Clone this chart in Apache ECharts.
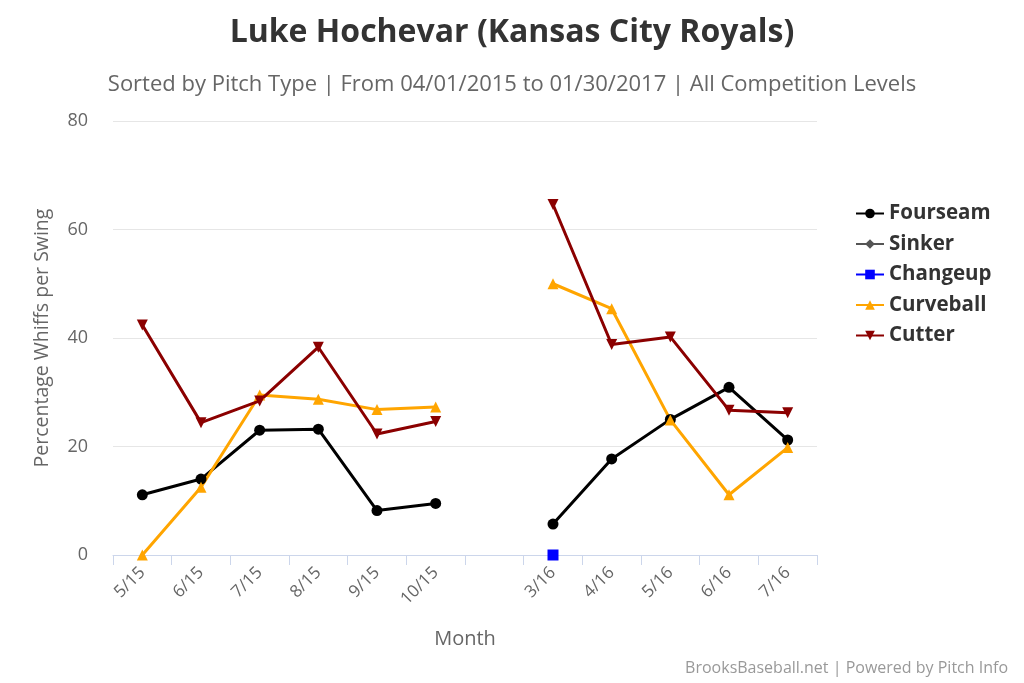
<!DOCTYPE html>
<html>
<head>
<meta charset="utf-8">
<script src="https://cdn.jsdelivr.net/npm/echarts@6/dist/echarts.min.js"></script>
<style>
  html, body { margin: 0; padding: 0; background: #fff; }
  #main { width: 1024px; height: 683px; }
</style>
</head>
<body>
<div id="main"></div>
<script>
// months, with one empty slot between the seasons
var months = ['5/15', '6/15', '7/15', '8/15', '9/15', '10/15', '', '3/16', '4/16', '5/16', '6/16', '7/16'];

var fourseam  = [11.1, 14.0, 23.0, 23.2, 8.2, 9.5, null, 5.7, 17.7, 25.0, 30.9, 21.2];
var sinker    = [null, null, null, null, null, null, null, null, null, null, null, null];
var changeup  = [null, null, null, null, null, null, null, 0, null, null, null, null];
var curveball = [0, 12.5, 29.5, 28.7, 26.8, 27.3, null, 50.0, 45.4, 24.9, 11.1, 19.8];
var cutter    = [42.4, 24.4, 28.4, 38.3, 22.3, 24.6, null, 64.6, 38.8, 40.2, 26.7, 26.2];

var font = '"Open Sans", "Noto Sans", sans-serif';

var myChart = echarts.init(document.getElementById('main'));

function mkSeries(name, data, color, symbol, size, rot) {
	return {
		name: name,
		type: 'line',
		data: data,
		connectNulls: false,
		symbol: symbol,
		symbolSize: size,
		symbolRotate: rot || 0,
		showAllSymbol: true,
		lineStyle: {color: color, width: 3},
		itemStyle: {color: color},
		emphasis: {disabled: true}
	};
}

var option = {
	animation: false,
	textStyle: {fontFamily: font},
	title: [
		{
			text: 'Luke Hochevar (Kansas City Royals)',
			left: 'center',
			top: 12,
			textStyle: {fontFamily: font, fontSize: 32, fontWeight: 'bold', color: '#333'}
		},
		{
			text: 'Sorted by Pitch Type | From 04/01/2015 to 01/30/2017 | All Competition Levels',
			left: 'center',
			top: 69,
			textStyle: {fontFamily: font, fontSize: 22, fontWeight: 'normal', color: '#666'}
		}
	],
	legend: {
		orient: 'vertical',
		left: 850,
		top: 198,
		itemWidth: 28,
		itemHeight: 12,
		itemGap: 9.5,
		textStyle: {fontFamily: font, fontSize: 20.5, fontWeight: 'bold', color: '#333'},
		data: ['Fourseam', 'Sinker', 'Changeup', 'Curveball', 'Cutter']
	},
	grid: {left: 113, right: 207, top: 121, bottom: 128},
	xAxis: {
		type: 'category',
		data: months,
		boundaryGap: true,
		name: 'Month',
		nameLocation: 'middle',
		nameGap: 74,
		nameTextStyle: {fontSize: 20, color: '#666'},
		axisLine: {lineStyle: {color: '#ccd6eb'}},
		axisTick: {show: true, length: 10, lineStyle: {color: '#ccd6eb'}, interval: 0},
		axisLabel: {rotate: 45, interval: 0, fontSize: 17, color: '#666', margin: 15}
	},
	yAxis: {
		type: 'value',
		min: 0,
		max: 80,
		interval: 20,
		name: 'Percentage Whiffs per Swing',
		nameLocation: 'middle',
		nameGap: 61,
		nameTextStyle: {fontSize: 19.5, color: '#666'},
		axisLine: {show: false},
		axisTick: {show: false},
		axisLabel: {fontSize: 18, color: '#666', margin: 25},
		splitLine: {lineStyle: {color: '#e6e6e6'}}
	},
	graphic: [
		{
			type: 'text',
			right: 16,
			bottom: 7,
			style: {text: 'BrooksBaseball.net | Powered by Pitch Info', fontFamily: font, fontSize: 16, fill: '#999'}
		}
	],
	series: [
		mkSeries('Fourseam', fourseam, '#000000', 'circle', 11),
		mkSeries('Sinker', sinker, '#555555', 'diamond', 11),
		mkSeries('Changeup', changeup, '#0000ff', 'rect', 11),
		mkSeries('Curveball', curveball, '#ffa500', 'triangle', 11),
		mkSeries('Cutter', cutter, '#8b0000', 'triangle', 11, 180)
	]
};

myChart.setOption(option);
</script>
</body>
</html>
